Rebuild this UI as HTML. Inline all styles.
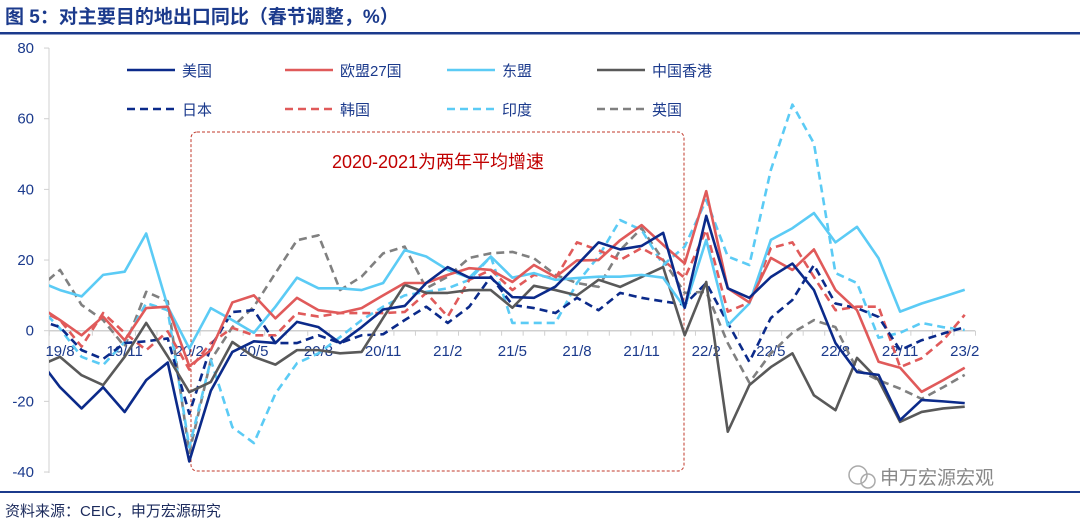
<!DOCTYPE html>
<html><head><meta charset="utf-8">
<style>
body{margin:0;background:#fff;width:1080px;height:525px;overflow:hidden;font-family:"Liberation Sans","Noto Sans CJK SC",sans-serif;}
svg text{font-family:"Liberation Sans","Noto Sans CJK SC",sans-serif;}
</style></head>
<body>
<svg id="chart" width="1080" height="525" viewBox="0 0 1080 525" xmlns="http://www.w3.org/2000/svg">
<text x="5" y="23" font-size="19" font-weight="bold" fill="#1b3a8c">图 5：对主要目的地出口同比（春节调整，%）</text>
<rect x="0" y="32" width="1080" height="2.5" fill="#1b3a8c"/>
<rect x="0" y="491" width="1080" height="2" fill="#1b3a8c"/>
<text x="5" y="516" font-size="15" fill="#1b2a5c">资料来源：CEIC，申万宏源研究</text>
<g>
<circle cx="858" cy="475" r="9" fill="none" stroke="#aaa" stroke-width="1.5"/>
<circle cx="868" cy="481" r="7" fill="none" stroke="#aaa" stroke-width="1.5"/>
<text x="880" y="484" font-size="19" fill="#888">申万宏源宏观</text>
</g>
<defs><clipPath id="plotclip"><rect x="49" y="40" width="1000" height="440"/></clipPath></defs>
<g id="axes"></g>
<g id="series" clip-path="url(#plotclip)"></g>
<g id="legend"></g>
</svg>
<script>
const months=['19/7','19/8','19/9','19/10','19/11','19/12','20/1','20/2','20/3','20/4','20/5','20/6','20/7','20/8','20/9','20/10','20/11','20/12','21/1','21/2','21/3','21/4','21/5','21/6','21/7','21/8','21/9','21/10','21/11','21/12','22/1','22/2','22/3','22/4','22/5','22/6','22/7','22/8','22/9','22/10','22/11','22/12','23/1','23/2'];
const yTicks=[80,60,40,20,0,-20,-40];
const xTickLabels=['19/8','19/11','20/2','20/5','20/8','20/11','21/2','21/5','21/8','21/11','22/2','22/5','22/8','22/11','23/2'];
const us=[-8,-16,-22,-16,-23,-14,-9,-37,-17,-6,-3,-3.5,2.5,1,-3.5,1,6,7,13.5,18,15,15,9.5,9.3,12.5,18.6,25,23,24,27.7,6.5,32.5,12,9.3,15.2,19,11.5,-3.5,-11.7,-12.5,-25.3,-19.6,-20,-20.5];
const eu=[7,3,-1.3,4,-2.7,6.4,6.8,-10,-5.5,8,10,3.5,9.3,5.8,5,6.4,10,13.5,13.5,15.8,17.7,17.2,13.8,18.6,15.2,19.9,20,25.6,29.9,24.3,19,39.5,12,8,20.6,17.2,23,11.5,5.8,-8.8,-10.5,-17.3,-14,-10.5];
const asean=[14,11.5,9.7,15.8,16.7,27.5,6.8,-5,6.4,3,-0.6,6.8,15,12,12,11.5,13.5,22.8,21,17.2,15,21,15,16.3,14.4,14.9,15.3,15.3,15.8,15,6.5,25.7,1.5,7.7,25.7,29,33.3,25,29.4,20.5,5.4,7.7,9.6,11.6];
const hk=[-10,-7.4,-12.6,-15.4,-7.4,2.2,-7.3,-17.4,-14.5,-3.2,-7.4,-9.6,-5.5,-5.5,-6.4,-6,3.6,13,10.7,10.7,11.5,11.5,6.5,12.7,11.5,10,14.4,12.4,15.2,18,-1.3,13.8,-28.6,-15.4,-10.3,-6.4,-18.3,-22.5,-7.7,-14,-25.8,-23,-22,-21.5];
const japan=[3,1,-5.5,-8,-3.5,-3,-2.2,-23.5,-4.5,5.3,5.8,-3.5,-3.5,-1.3,-3.5,-1.3,-1,3,6.8,2.2,6.8,15.3,7.3,6.4,5,9.3,5.8,10.7,9.3,8.3,7.4,13.5,2.2,-8.8,3.6,8.7,18.6,7.7,6.4,3.9,-5.5,-2.7,-0.8,1];
const korea=[6,3,-4.5,5,-0.6,-5.5,-0.2,-11,-3.5,0.8,-1.3,-1.3,5,4,5,5,5,5.3,10.7,4,14.4,17.2,11.5,15.8,14.9,25,22.8,20,23.4,20,14.9,28.5,5.4,8,23.4,25,15.2,5.8,6.8,6.8,-10.3,-7.8,-2.7,4.5];
const india=[7,0.6,-7.4,-9.7,-3.2,7.8,5.8,-33,-8.3,-27.3,-31.8,-17.8,-9.2,-6.4,-1.8,3,6.8,10,11,12,14.4,21,2.2,2.2,2.2,13.5,21,31.3,28.5,18.6,23.8,37,21,18.6,45.5,64,53,16.3,13.5,-2,-0.6,2.2,1,0.2];
const uk=[12,17.2,7.3,3,-4.5,11,8.3,-34.6,-8.3,1,6.8,16.3,25.6,27,11.5,15.3,21.9,23.8,12,15.3,20.6,21.9,22.3,20.5,15.8,13.5,12.4,22.8,29,20,10.7,11,-3.5,-14.7,-6.4,-0.6,3,1,-11,-14,-16.4,-19.3,-16,-12.5];
const seriesNames=['美国','欧盟27国','东盟','中国香港','日本','韩国','印度','英国'];

const NS='http://www.w3.org/2000/svg';
const x=i=>38.5+21.54*i;
const y=v=>330.7-3.533*v;
function mk(tag,attrs,parent){const e=document.createElementNS(NS,tag);for(const k in attrs)e.setAttribute(k,attrs[k]);parent.appendChild(e);return e;}
const axes=document.getElementById('axes');
const ser=document.getElementById('series');
const leg=document.getElementById('legend');

const yaxis=mk('line',{x1:49,x2:49,y1:48,y2:473,stroke:'#d0d0d0','stroke-width':1},axes);


yTicks.forEach(t=>{
  const tk=mk('line',{x1:44,x2:49,y1:y(t),y2:y(t),stroke:'#d0d0d0'},axes);
  
  
  const lb=mk('text',{x:34,y:y(t)+5,'font-size':15,fill:'#1b3a8c','text-anchor':'end'},axes);
  lb.textContent=t;
  
  
});
const xaxis=mk('line',{x1:49,x2:975,y1:y(0),y2:y(0),stroke:'#d0d0d0','stroke-width':1.5},axes);


months.forEach((m,i)=>{
  const tk=mk('line',{x1:x(i)+10.77,x2:x(i)+10.77,y1:y(0),y2:y(0)+5,stroke:'#d0d0d0'},axes);
  
  
  if(xTickLabels.includes(m)){
    const lb=mk('text',{x:x(i),y:356,'font-size':15,fill:'#1b3a8c','text-anchor':'middle'},axes);
    lb.textContent=m;
    
    
  }
});
const box=mk('rect',{x:191,y:132,width:493,height:339,rx:6,fill:'none',stroke:'#c0392b','stroke-width':1,'stroke-dasharray':'3,2'},axes);


const note=mk('text',{x:438,y:168,'font-size':18,fill:'#c00000','text-anchor':'middle'},axes);
note.textContent='2020-2021为两年平均增速';



const defs=[
 {d:us,c:'#0b2a8a',dash:'',n:'line-us'},
 {d:eu,c:'#e05a5a',dash:'',n:'line-eu27'},
 {d:asean,c:'#5bcbf5',dash:'',n:'line-asean'},
 {d:hk,c:'#595959',dash:'',n:'line-hongkong'},
 {d:japan,c:'#0b2a8a',dash:'8,5',n:'line-japan'},
 {d:korea,c:'#e05a5a',dash:'8,5',n:'line-korea'},
 {d:india,c:'#5bcbf5',dash:'8,5',n:'line-india'},
 {d:uk,c:'#808080',dash:'8,5',n:'line-uk'}];
const order=[7,6,5,4,3,2,1,0];
order.forEach(k=>{
  const s=defs[k];
  const p=mk('polyline',{points:s.d.map((v,i)=>x(i)+','+y(v)).join(' '),fill:'none',stroke:s.c,'stroke-width':2.6,'stroke-dasharray':s.dash,'stroke-linejoin':'round'},ser);
  
  
});
const lx=[127,285,447,597];
defs.forEach((s,k)=>{
  const col=k%4,row=Math.floor(k/4);
  const yy=row?109:70;
  const g=mk('g',{},leg);
  
  
  mk('line',{x1:lx[col],x2:lx[col]+48,y1:yy,y2:yy,stroke:s.c,'stroke-width':2.6,'stroke-dasharray':s.dash},g);
  const t=mk('text',{x:lx[col]+55,y:yy+6,'font-size':15,fill:'#1b3a8c'},g);
  t.textContent=seriesNames[k];
});
</script>
</body></html>
